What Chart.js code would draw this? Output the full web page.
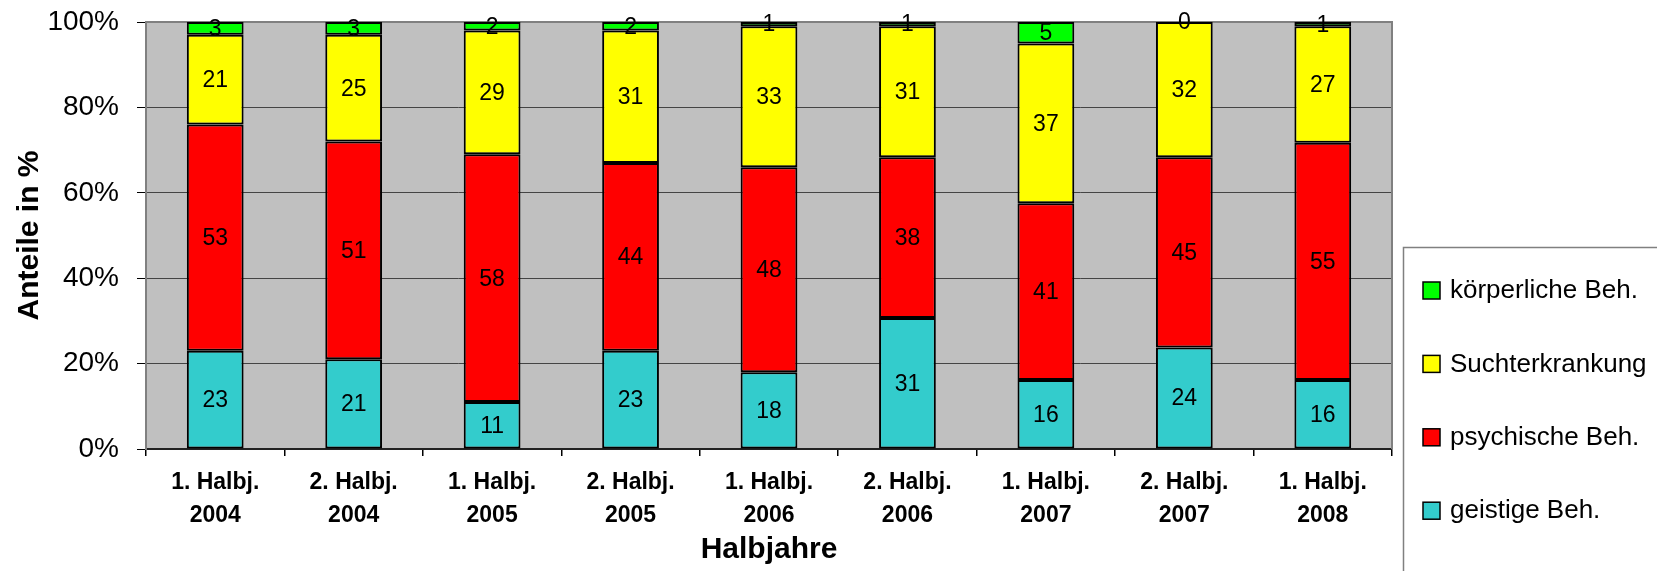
<!DOCTYPE html>
<html>
<head>
<meta charset="utf-8">
<script src="https://cdn.jsdelivr.net/npm/chart.js@4/dist/chart.umd.min.js"></script>
<style>
  body { margin: 0; background: #fff; }
  canvas { display: block; }
</style>
</head>
<body>
<canvas id="chart" width="1657" height="571"></canvas>
<script>
const categories = [
  ['1. Halbj.', '2004'], ['2. Halbj.', '2004'],
  ['1. Halbj.', '2005'], ['2. Halbj.', '2005'],
  ['1. Halbj.', '2006'], ['2. Halbj.', '2006'],
  ['1. Halbj.', '2007'], ['2. Halbj.', '2007'],
  ['1. Halbj.', '2008']
];
const geistige = [23, 21, 11, 23, 18, 31, 16, 24, 16];
const psychische = [53, 51, 58, 44, 48, 38, 41, 45, 55];
const sucht = [21, 25, 29, 31, 33, 31, 37, 32, 27];
const koerperliche = [3, 3, 2, 2, 1, 1, 5, 0, 1];
const yTicks = [0, 20, 40, 60, 80, 100];

const FONT = '"Liberation Sans", Arial, sans-serif';

const series = [
  { label: 'geistige Beh.', values: geistige, color: '#33CCCC' },
  { label: 'psychische Beh.', values: psychische, color: '#FF0000' },
  { label: 'Suchterkrankung', values: sucht, color: '#FFFF00' },
  { label: 'körperliche Beh.', values: koerperliche, color: '#00FF00' }
];

// 100% stacked: each column is scaled to its total
const totals = categories.map((c, i) => series.reduce((s, d) => s + d.values[i], 0));

const datasets = series.map(s => ({
  label: s.label,
  data: s.values.map((v, i) => v / totals[i] * 100),
  raw: s.values,
  backgroundColor: s.color,
  borderColor: '#000',
  borderWidth: 2,
  borderSkipped: false,
  barPercentage: 0.41,
  categoryPercentage: 1
}));

const plotFrame = {
  id: 'plotFrame',
  beforeDraw(chart) {
    const { ctx, chartArea: a } = chart;
    ctx.save();
    ctx.fillStyle = '#C0C0C0';
    ctx.fillRect(a.left, a.top, a.right - a.left, a.bottom - a.top);
    ctx.restore();
  },
  beforeDatasetsDraw(chart) {
    const { ctx, chartArea: a } = chart;
    ctx.save();
    ctx.strokeStyle = '#808080';
    ctx.lineWidth = 2;
    ctx.beginPath();
    ctx.moveTo(a.left, a.top);
    ctx.lineTo(a.right, a.top);
    ctx.lineTo(a.right, a.bottom);
    ctx.stroke();
    ctx.restore();
  }
};

const valueLabels = {
  id: 'valueLabels',
  afterDatasetsDraw(chart) {
    const { ctx } = chart;
    ctx.save();
    ctx.font = '23px ' + FONT;
    ctx.fillStyle = '#000';
    ctx.textAlign = 'center';
    ctx.textBaseline = 'middle';
    chart.data.datasets.forEach((ds, di) => {
      chart.getDatasetMeta(di).data.forEach((bar, i) => {
        const { x, y, base } = bar.getProps(['x', 'y', 'base'], true);
        ctx.fillText(String(ds.raw[i]), x, (y + base) / 2 + 1);
      });
    });
    ctx.restore();
  }
};

const boxLegend = {
  id: 'boxLegend',
  afterDraw(chart) {
    const { ctx } = chart;
    const left = 1403, top = 247;
    ctx.save();
    ctx.fillStyle = '#fff';
    ctx.strokeStyle = '#808080';
    ctx.lineWidth = 1.5;
    ctx.fillRect(left, top, 400, 400);
    ctx.strokeRect(left + 0.5, top + 0.5, 400, 400);
    ctx.font = '26px ' + FONT;
    ctx.textBaseline = 'middle';
    const items = chart.data.datasets.slice().reverse();
    items.forEach((ds, i) => {
      const cy = 290 + i * 73.4;
      ctx.fillStyle = ds.backgroundColor;
      ctx.fillRect(1423, cy - 8, 17, 17);
      ctx.strokeStyle = '#000';
      ctx.lineWidth = 1.5;
      ctx.strokeRect(1423, cy - 8, 17, 17);
      ctx.fillStyle = '#000';
      ctx.fillText(ds.label, 1450, cy + 1);
    });
    ctx.restore();
  }
};

new Chart(document.getElementById('chart'), {
  type: 'bar',
  data: { labels: categories, datasets },
  options: {
    responsive: false,
    animation: false,
    layout: { padding: { left: 0, top: 22, right: 265, bottom: 0 } },
    plugins: { legend: { display: false }, tooltip: { enabled: false } },
    scales: {
      x: {
        stacked: true,
        grid: {
          offset: true,
          drawOnChartArea: false,
          drawTicks: true,
          tickLength: 7,
          color: '#000',
          lineWidth: 1.5
        },
        border: { color: '#222', width: 2 },
        ticks: {
          color: '#000',
          padding: 11,
          maxRotation: 0,
          autoSkip: false,
          font: { family: FONT, size: 23, weight: 'bold', lineHeight: 1.4 }
        },
        title: {
          display: true,
          text: 'Halbjahre',
          color: '#000',
          font: { family: FONT, size: 30, weight: 'bold', lineHeight: 1.2 },
          padding: { top: 0, bottom: 3 }
        },
        afterFit(scale) { scale.height = 122; }
      },
      y: {
        stacked: true,
        min: 0,
        max: 100,
        afterBuildTicks(scale) { scale.ticks = yTicks.map(v => ({ value: v })); },
        grid: {
          color: '#444',
          lineWidth: 1,
          tickLength: 9,
          tickColor: '#000'
        },
        border: { color: '#808080', width: 2 },
        ticks: {
          color: '#000',
          padding: 18,
          font: { family: FONT, size: 28 },
          callback: v => v + '%'
        },
        title: {
          display: true,
          text: 'Anteile in %',
          color: '#000',
          font: { family: FONT, size: 30, weight: 'bold', lineHeight: 1.2 },
          padding: { top: 12, bottom: 0 }
        },
        afterFit(scale) {
          scale.width = 146;
          // keep the tick-label padding from pushing the plot down
          scale.paddingTop = 0;
          scale.paddingBottom = 0;
        }
      }
    }
  },
  plugins: [plotFrame, valueLabels, boxLegend]
});
</script>
</body>
</html>
